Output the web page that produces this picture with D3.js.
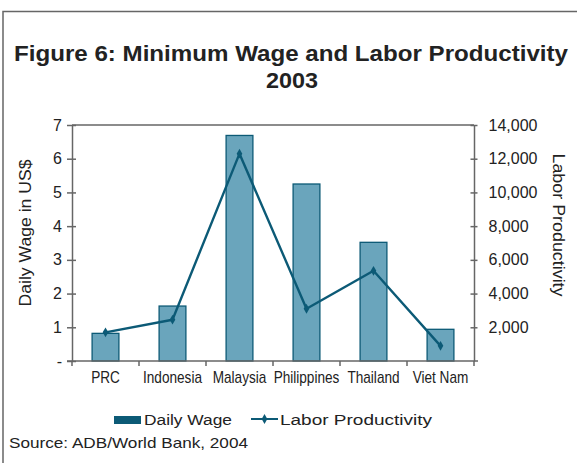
<!DOCTYPE html>
<html>
<head>
<meta charset="utf-8">
<script src="https://cdn.jsdelivr.net/npm/d3@7"></script>
<style>
  html, body { margin: 0; padding: 0; background: #fff; }
  svg { display: block; font-family: "Liberation Sans", Arial, sans-serif; }
</style>
</head>
<body>
<svg id="chart" width="577" height="463"></svg>
<script>
// Minimum wage (bars, left axis) and labour productivity (line, right axis), 2003
const categories = ["PRC", "Indonesia", "Malaysia", "Philippines", "Thailand", "Viet Nam"];
const dailyWage = [0.82, 1.63, 6.69, 5.25, 3.52, 0.94];
const laborProductivity = [1700, 2450, 12300, 3100, 5350, 900];
const wageTicks = [0, 1, 2, 3, 4, 5, 6, 7];
const productivityTicks = [2000, 4000, 6000, 8000, 10000, 12000, 14000];

const barFill = "#6aa5bc";
const darkTeal = "#0c5a76";
const axisGrey = "#666";

const svg = d3.select("#chart");

// frame along the top and left edges
svg.append("path")
  .attr("d", "M3,463 V11.5 H577")
  .attr("fill", "none").attr("stroke", axisGrey).attr("stroke-width", 1.5);

// title
const title = svg.append("g").attr("font-weight", "bold").attr("fill", "#222");
title.append("text").attr("x", 14).attr("y", 61)
  .attr("font-size", 22).attr("textLength", 554).attr("lengthAdjust", "spacingAndGlyphs")
  .text("Figure 6: Minimum Wage and Labor Productivity");
title.append("text").attr("x", 266).attr("y", 87.7)
  .attr("font-size", 22).attr("textLength", 52).attr("lengthAdjust", "spacingAndGlyphs")
  .text("2003");

const plotLeft = 72, plotRight = 474, plotTop = 125, plotBottom = 361;

const x = d3.scaleBand().domain(categories).range([plotLeft, plotRight])
  .paddingInner(0.6).paddingOuter(0.3);
const y = d3.scaleLinear().domain([0, 7]).range([plotBottom, plotTop]);
const y2 = d3.scaleLinear().domain([0, 14000]).range([plotBottom, plotTop]);

// top border of plot area
svg.append("line")
  .attr("x1", plotLeft).attr("x2", plotRight).attr("y1", plotTop).attr("y2", plotTop)
  .attr("stroke", axisGrey).attr("stroke-width", 1.5);

// bars
svg.append("g").selectAll("rect")
  .data(categories)
  .join("rect")
  .attr("x", d => x(d))
  .attr("width", x.bandwidth())
  .attr("y", (d, i) => y(dailyWage[i]))
  .attr("height", (d, i) => y(0) - y(dailyWage[i]))
  .attr("fill", barFill)
  .attr("stroke", darkTeal)
  .attr("stroke-width", 1.3);

// left axis
const yAxis = svg.append("g").attr("transform", `translate(${plotLeft},0)`)
  .call(d3.axisLeft(y).tickValues(wageTicks)
    .tickFormat(d => d === 0 ? "-" : d3.format("d")(d))
    .tickSizeInner(5).tickSizeOuter(0).tickPadding(5));
yAxis.selectAll(".tick line").attr("x2", -5).attr("x1", 4);

// right axis
const y2Axis = svg.append("g").attr("transform", `translate(${plotRight},0)`)
  .call(d3.axisRight(y2).tickValues(productivityTicks)
    .tickFormat(d3.format(","))
    .tickSizeInner(3.5).tickSizeOuter(0).tickPadding(11));
y2Axis.selectAll(".tick line").attr("x1", -3.5).attr("x2", 3.5);

// bottom axis: ticks on category boundaries
const xAxis = svg.append("g").attr("transform", `translate(0,${plotBottom})`);
xAxis.append("line").attr("x1", plotLeft - 5).attr("x2", plotRight + 4)
  .attr("stroke", axisGrey).attr("stroke-width", 1.5);
xAxis.selectAll(".bound")
  .data(categories.concat([null]))
  .join("line")
  .attr("class", "bound")
  .attr("x1", (d, i) => plotLeft + i * x.step()).attr("x2", (d, i) => plotLeft + i * x.step())
  .attr("y1", 0).attr("y2", 5)
  .attr("stroke", axisGrey).attr("stroke-width", 1.5);
xAxis.selectAll(".cat")
  .data(categories)
  .join("text")
  .attr("class", "cat")
  .attr("transform", d => `translate(${x(d) + x.bandwidth() / 2},22) scale(0.85,1)`)
  .attr("text-anchor", "middle")
  .attr("font-size", 16)
  .attr("fill", "#222")
  .text(d => d);

[yAxis, y2Axis].forEach(g => {
  g.select(".domain").attr("stroke", axisGrey).attr("stroke-width", 1.5);
  g.selectAll(".tick line").attr("stroke", axisGrey).attr("stroke-width", 1.5);
  g.selectAll(".tick text").attr("font-size", 16).attr("fill", "#222")
    .attr("font-family", "'Liberation Sans', Arial, sans-serif");
});

// labour productivity line
const cx = d => x(d) + x.bandwidth() / 2;
const line = d3.line().x(d => cx(d)).y((d, i) => y2(laborProductivity[i]));
svg.append("path")
  .datum(categories)
  .attr("d", line)
  .attr("fill", "none")
  .attr("stroke", darkTeal)
  .attr("stroke-width", 2.4)
  .attr("stroke-linejoin", "round");
svg.append("g").selectAll("path")
  .data(categories)
  .join("path")
  .attr("transform", (d, i) => `translate(${cx(d)},${y2(laborProductivity[i])})`)
  .attr("d", d3.symbol(d3.symbolDiamond, 28))
  .attr("fill", darkTeal);

// axis titles
svg.append("text")
  .attr("transform", "translate(31,233) rotate(-90)")
  .attr("text-anchor", "middle")
  .attr("font-size", 16).attr("fill", "#222")
  .attr("textLength", 147).attr("lengthAdjust", "spacingAndGlyphs")
  .text("Daily Wage in US$");
svg.append("text")
  .attr("transform", "translate(553,225) rotate(90)")
  .attr("text-anchor", "middle")
  .attr("font-size", 16).attr("fill", "#222")
  .attr("textLength", 143).attr("lengthAdjust", "spacingAndGlyphs")
  .text("Labor Productivity");

// legend
const legend = svg.append("g");
legend.append("rect").attr("x", 114).attr("y", 416).attr("width", 27).attr("height", 8)
  .attr("fill", darkTeal);
legend.append("text").attr("x", 144).attr("y", 424.5)
  .attr("font-size", 15.5).attr("fill", "#222")
  .attr("textLength", 88).attr("lengthAdjust", "spacingAndGlyphs")
  .text("Daily Wage");
legend.append("line").attr("x1", 251).attr("x2", 278).attr("y1", 419).attr("y2", 419)
  .attr("stroke", darkTeal).attr("stroke-width", 2);
legend.append("path").attr("transform", "translate(264.5,419)")
  .attr("d", d3.symbol(d3.symbolDiamond, 28)).attr("fill", darkTeal);
legend.append("text").attr("x", 280).attr("y", 424.5)
  .attr("font-size", 15.5).attr("fill", "#222")
  .attr("textLength", 152).attr("lengthAdjust", "spacingAndGlyphs")
  .text("Labor Productivity");

// source note
svg.append("text").attr("x", 9).attr("y", 448)
  .attr("font-size", 15).attr("fill", "#222")
  .attr("textLength", 239).attr("lengthAdjust", "spacingAndGlyphs")
  .text("Source: ADB/World Bank, 2004");
</script>
</body>
</html>
